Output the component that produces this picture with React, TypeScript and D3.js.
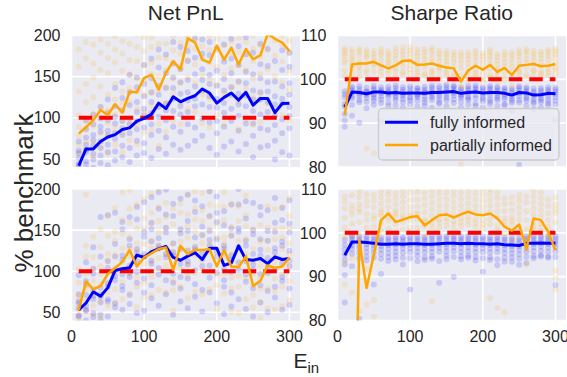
import { useEffect, useRef } from "react";
import * as d3 from "d3";

const epochs = [10, 20, 30, 40, 50, 60, 70, 80, 90, 100, 110, 120, 130, 140, 150, 160, 170, 180, 190, 200, 210, 220, 230, 240, 250, 260, 270, 280, 290, 300];

// mean lines (% of benchmark)
const pnlTopFull = [41.5, 62, 62, 71, 76.5, 79.4, 85.6, 87.6, 95.8, 99.1, 104, 117.7, 111, 125.4, 119.3, 123.4, 126.7, 134.9, 130, 117.7, 124.7, 130, 121.4, 130.9, 115.2, 123.4, 123.4, 106.2, 117.3, 117.7];
const pnlTopPartial = [80.6, 88.4, 97, 109.4, 103.2, 116.4, 106.2, 131.6, 130.9, 148.5, 152.2, 134.1, 154.7, 168.6, 158.8, 196.7, 191.4, 170.7, 167, 187.7, 170.7, 185.2, 164.6, 183.5, 171.1, 176, 202, 196, 191.4, 181];
const pnlBottomFull = [52.9, 61.3, 75, 69.6, 80, 100.8, 103, 104.2, 119.6, 116.7, 123.8, 127, 130, 116.7, 113.3, 118.3, 122.5, 114.2, 127.9, 127.9, 107, 110, 130.8, 114.2, 113.3, 115.4, 109.2, 117.5, 114.2, 115.4];
const pnlBottomPartial = [52.9, 87.5, 77.9, 82, 96.7, 103.8, 111.3, 125.8, 105.8, 116.7, 121.7, 127, 128.8, 101.7, 130.8, 120.8, 125.8, 125.8, 126.7, 105.8, 125.8, 105.8, 105, 118.3, 82, 88.3, 107, 104.2, 105.8, 116.7];
const sharpeTopFull = [93.6, 97.1, 97, 96.7, 97.1, 97.1, 96.9, 97, 96.8, 96.9, 96.9, 96.8, 97, 97, 97.1, 97.2, 96.8, 97, 97.1, 96.9, 97, 97, 96.8, 96.4, 97, 96.9, 96.4, 96.5, 96.8, 96.7];
const sharpeTopPartial = [91.9, 103.4, 103.6, 103.6, 104, 103.2, 102.5, 103.2, 104.2, 104.3, 103.3, 103.4, 103.6, 103.1, 102.7, 102.5, 99.5, 102, 103.1, 102.2, 103.3, 101.7, 102.6, 101, 103.1, 103.3, 103.5, 103, 103.1, 103.5];
const sharpeBottomFull = [94.9, 97.9, 97.9, 97.8, 97.6, 97.4, 97.4, 97.5, 97.4, 97.5, 97.5, 97.4, 97.4, 97.5, 97.6, 97.6, 97.5, 97.6, 97.5, 97.5, 97.4, 97.5, 97.3, 97.2, 97.1, 97.6, 97.6, 97.7, 97.6, 97.6];
const sharpeBottomPartial = [50, 15, 98.3, 87.4, 95, 102.9, 104.4, 102.5, 103, 103.6, 103.8, 101.7, 102.9, 104, 104.2, 103.5, 104.2, 104.8, 104.2, 104, 104.4, 103.3, 101.4, 100.5, 101.9, 96.4, 103.3, 102.9, 100.2, 96];

// individual runs, one row per epoch value
const pnlTopFullDots = [
  [31, 37, 42, 44, 51, 57, 60, 71], [43, 47, 58, 61, 67, 76, 86, 97], [39, 49, 56, 66, 73, 79, 92, 104], [45, 54, 63, 71, 83, 89, 99, 113],
  [42, 58, 67, 78, 84, 97, 106, 122], [48, 59, 74, 81, 93, 101, 114, 136], [52, 66, 79, 87, 96, 109, 124, 143], [46, 63, 81, 92, 99, 115, 131, 152],
  [54, 72, 86, 96, 107, 119, 137, 149], [57, 69, 88, 103, 111, 126, 141, 164], [51, 79, 92, 106, 119, 131, 148, 172], [62, 84, 101, 113, 128, 139, 161, 183],
  [56, 76, 97, 109, 117, 136, 154, 177], [67, 89, 108, 123, 136, 149, 166, 192], [61, 83, 104, 114, 129, 143, 159, 186], [66, 92, 107, 121, 131, 146, 169, 181],
  [72, 88, 114, 123, 138, 153, 173, 197], [78, 99, 116, 133, 146, 159, 178, 195], [63, 94, 113, 126, 141, 152, 176, 192], [55, 81, 96, 112, 123, 139, 157, 184],
  [65, 89, 106, 118, 133, 147, 168, 189], [71, 96, 111, 128, 137, 154, 172, 196], [59, 84, 102, 116, 129, 144, 164, 187], [68, 93, 114, 127, 142, 156, 177, 198],
  [52, 78, 93, 108, 122, 133, 153, 179], [64, 87, 104, 122, 131, 148, 165, 190], [66, 85, 107, 119, 132, 143, 163, 184], [49, 72, 91, 102, 116, 126, 144, 169],
  [58, 81, 98, 117, 123, 138, 158, 182], [54, 87, 102, 113, 128, 142, 162, 179],
];
const pnlTopPartialDots = [
  [56, 67, 78, 89, 103, 132, 162, 183], [62, 71, 87, 96, 119, 141, 172, 192], [53, 70, 90, 104, 125, 149, 166, 189], [64, 81, 100, 113, 138, 158, 179, 195],
  [57, 78, 93, 109, 128, 154, 173, 190], [67, 87, 104, 122, 141, 167, 183, 199], [58, 82, 96, 118, 132, 157, 178, 193], [73, 93, 119, 136, 153, 170, 190, 207],
  [68, 92, 111, 132, 148, 169, 186, 202], [82, 107, 128, 145, 164, 181, 198, 215], [85, 114, 130, 153, 167, 186, 198, 217], [66, 93, 115, 134, 150, 173, 190, 209],
  [83, 118, 137, 158, 173, 190, 203, 220], [96, 129, 148, 167, 182, 199, 210, 225], [92, 118, 142, 160, 178, 191, 208, 222], [111, 149, 170, 187, 198, 210, 217, 232],
  [107, 142, 165, 184, 195, 208, 215, 229], [93, 128, 151, 172, 187, 203, 212, 227], [88, 123, 146, 167, 182, 199, 210, 224], [103, 140, 162, 182, 196, 209, 216, 230],
  [92, 130, 152, 172, 188, 204, 213, 227], [100, 137, 160, 179, 193, 207, 215, 229], [86, 120, 143, 164, 180, 197, 208, 222], [97, 135, 158, 178, 192, 206, 214, 228],
  [91, 125, 148, 169, 184, 200, 211, 225], [95, 130, 153, 174, 188, 203, 213, 227], [117, 159, 182, 200, 208, 219, 225, 237], [110, 150, 175, 194, 204, 215, 222, 234],
  [103, 143, 168, 189, 200, 212, 220, 232], [96, 134, 157, 179, 194, 207, 216, 229],
];
const pnlBottomFullDots = [
  [37, 45, 46, 55, 61, 63, 72, 95], [40, 52, 53, 58, 71, 84, 88, 111], [44, 49, 66, 70, 77, 97, 103, 129], [41, 47, 62, 69, 72, 80, 118, 166],
  [45, 63, 66, 81, 85, 104, 112, 168], [56, 61, 89, 94, 101, 118, 133, 171], [53, 77, 82, 96, 114, 119, 151, 160], [60, 71, 93, 98, 107, 131, 139, 166],
  [49, 86, 99, 112, 122, 127, 163, 178], [52, 74, 91, 118, 121, 142, 148, 184], [67, 83, 109, 113, 136, 151, 159, 190], [58, 96, 104, 128, 131, 140, 176, 196],
  [72, 89, 117, 121, 147, 153, 169, 199], [47, 86, 97, 119, 123, 134, 167, 182], [63, 79, 93, 109, 127, 146, 151, 188], [55, 91, 108, 112, 125, 149, 161, 193],
  [69, 84, 101, 126, 129, 141, 172, 186], [51, 77, 106, 115, 122, 144, 154, 179], [74, 92, 107, 131, 138, 149, 167, 197], [61, 98, 118, 124, 139, 160, 171, 191],
  [48, 81, 89, 102, 127, 131, 156, 173], [57, 74, 99, 114, 119, 143, 152, 181], [66, 102, 111, 129, 148, 152, 181, 200], [54, 87, 96, 112, 131, 137, 164, 185],
  [45, 79, 102, 108, 121, 145, 150, 183], [62, 83, 97, 119, 126, 139, 168, 178], [50, 76, 98, 105, 116, 137, 149, 174], [68, 81, 101, 123, 128, 148, 159, 189],
  [53, 88, 93, 110, 131, 136, 162, 177], [59, 79, 106, 113, 125, 147, 158, 186],
];
const pnlBottomPartialDots = [
  [40, 46, 53, 55, 68, 71, 86, 102], [52, 64, 79, 83, 97, 118, 131, 193], [47, 58, 71, 80, 88, 103, 117, 142], [45, 63, 69, 84, 97, 106, 129, 151],
  [58, 74, 86, 99, 113, 121, 143, 167], [61, 78, 97, 104, 119, 137, 148, 177], [66, 87, 103, 111, 128, 146, 163, 196], [73, 96, 118, 127, 141, 159, 176, 199],
  [56, 81, 92, 109, 126, 134, 152, 181], [68, 86, 109, 117, 133, 152, 164, 188], [71, 93, 111, 128, 137, 158, 171, 194], [77, 102, 116, 131, 147, 161, 178, 200],
  [74, 107, 121, 129, 152, 166, 183, 203], [52, 77, 89, 108, 124, 133, 157, 176], [81, 103, 127, 136, 149, 171, 182, 205], [67, 94, 108, 126, 141, 154, 169, 193],
  [75, 98, 119, 131, 148, 163, 177, 197], [72, 101, 112, 134, 143, 161, 174, 195], [78, 99, 124, 133, 151, 166, 181, 198], [54, 83, 96, 112, 127, 141, 158, 179],
  [73, 97, 116, 134, 141, 162, 178, 196], [51, 79, 92, 113, 121, 144, 154, 181], [49, 81, 94, 109, 126, 137, 161, 179], [66, 91, 113, 121, 139, 155, 168, 192],
  [38, 56, 71, 83, 97, 112, 127, 151], [43, 62, 79, 91, 106, 114, 136, 156], [55, 79, 98, 107, 126, 137, 153, 179], [53, 76, 91, 111, 118, 139, 151, 176],
  [57, 81, 96, 108, 127, 141, 152, 178], [64, 88, 107, 121, 134, 152, 167, 189],
];
const sharpeTopFullDots = [
  [89.2, 90.6, 92.1, 93.8, 94.4, 95.9, 96.6, 97.3], [91.7, 94.2, 95.6, 96.1, 97.4, 97.9, 98.3, 96.8], [90.1, 94.8, 95.3, 96.7, 97.2, 97.8, 98.4, 96.2], [93.4, 94.9, 95.8, 96.4, 97.1, 97.3, 98.1, 96.9],
  [94.2, 95.1, 96.3, 96.6, 97.5, 97.9, 98.5, 95.7], [90.3, 95.4, 96.1, 96.8, 97.3, 97.6, 98.2, 94.6], [93.9, 94.7, 95.9, 96.5, 97.2, 97.7, 98.3, 96.9], [94.1, 95.2, 95.8, 96.9, 97.4, 98, 98.6, 96.3],
  [93.6, 94.8, 96.2, 96.7, 97.1, 97.6, 98.2, 95.5], [94.3, 95.6, 96, 96.8, 97.3, 97.9, 98.4, 95.1], [93.8, 95.1, 95.9, 96.6, 97.4, 97.8, 98.1, 96.3], [94, 94.7, 96.1, 96.9, 97.2, 97.7, 98.3, 95.4],
  [93.5, 95.3, 96.4, 97, 97.5, 98.1, 98.6, 95.9], [94.4, 95.5, 96.2, 96.8, 97.3, 97.9, 98.4, 94.8], [93.9, 95.8, 96.5, 97.1, 97.6, 98.2, 98.7, 95.2], [94.6, 95.4, 96.3, 97.3, 97.8, 98.3, 98.5, 96.9],
  [93.7, 94.9, 95.8, 96.5, 97.1, 97.6, 98.1, 96.2], [94.2, 95.3, 96.1, 96.9, 97.5, 97.9, 98.4, 95.6], [94.5, 95.7, 96.4, 97.2, 97.7, 98.1, 98.6, 93.9], [93.6, 95, 96, 96.7, 97.3, 97.8, 98.2, 95.5],
  [94.3, 95.4, 96.3, 97, 97.6, 98, 98.5, 94.9], [93.9, 95.2, 96.2, 96.8, 97.4, 97.9, 98.3, 95.7], [94.1, 95.5, 96, 96.6, 97.2, 97.7, 98.1, 94.4], [92.9, 94.6, 95.6, 96.2, 96.9, 97.4, 97.9, 95.1],
  [80.5, 95.3, 96.2, 96.9, 97.5, 98, 98.4, 94.7], [94, 95.1, 96.1, 96.8, 97.3, 97.8, 98.2, 95.6], [93.2, 94.5, 95.5, 96.2, 96.8, 97.3, 97.9, 94.9], [93.6, 94.8, 95.7, 96.4, 97, 97.5, 98, 95.3],
  [94.1, 95.2, 96, 96.7, 97.2, 97.7, 98.2, 94.6], [90.6, 95.1, 95.9, 96.6, 97.1, 97.6, 98.1, 94.3],
];
const sharpeTopPartialDots = [
  [100.8, 102.1, 103.7, 104.4, 105.3, 105.9, 106.6, 107.1], [101.3, 102.4, 103.1, 104.6, 105.2, 106.1, 106.8, 103.9], [100.6, 101.9, 103.4, 104.1, 105.5, 106.3, 106.9, 102.8], [84.2, 102.2, 103.6, 104.9, 105.4, 106.1, 106.7, 101.4],
  [83.1, 101.7, 102.9, 104.2, 105.1, 105.8, 106.5, 103.6], [100.9, 102.6, 103.3, 104.5, 105.6, 106.2, 106.9, 101.8], [101.2, 102.1, 103.8, 104.3, 105.2, 105.7, 106.4, 102.9], [100.7, 101.8, 103.5, 104.7, 105.5, 106.3, 107.1, 102.5],
  [101.6, 102.8, 103.9, 104.8, 105.7, 106.4, 107.3, 101.1], [101.4, 102.3, 104.1, 104.9, 105.9, 106.6, 107.4, 103.2], [100.8, 102.5, 103.4, 104.4, 105.3, 106, 106.8, 101.6], [101.3, 102.7, 103.6, 104.6, 105.4, 106.2, 106.9, 100.9],
  [101, 102.2, 103.9, 104.8, 105.8, 106.5, 107.2, 101.7], [100.5, 101.9, 103.1, 104.2, 105.1, 105.9, 106.6, 102.6], [100.9, 102.3, 103.4, 104.1, 104.9, 105.7, 106.4, 101.5], [99.8, 101.4, 102.8, 103.9, 104.7, 105.5, 106.2, 100.6],
  [80.6, 98.4, 100.9, 102.5, 103.6, 104.5, 105.4, 106.1], [100.2, 101.6, 102.7, 103.7, 104.6, 105.4, 106.1, 99.5], [100.7, 102.1, 103.2, 104.3, 105.2, 105.9, 106.6, 101.4], [100.1, 101.3, 102.5, 103.6, 104.5, 105.3, 106, 99.7],
  [101, 102.4, 103.5, 104.6, 105.4, 106.1, 106.8, 100.5], [99.5, 100.9, 102.3, 103.4, 104.3, 105.1, 105.8, 101.8], [100.5, 101.8, 102.9, 103.9, 104.8, 105.6, 106.3, 99.9], [98.6, 100.3, 101.6, 102.8, 103.8, 104.7, 105.5, 106.2],
  [100.9, 102.2, 103.4, 104.4, 105.3, 106, 106.7, 101.6], [101.1, 102.6, 103.8, 104.7, 105.6, 106.3, 106.9, 100.4], [100.8, 102, 103.3, 104.2, 105.1, 105.8, 106.5, 101.9], [100.4, 101.7, 102.9, 103.9, 104.8, 105.6, 106.3, 101.2],
  [100.9, 102.3, 103.4, 104.5, 105.4, 106.1, 106.7, 101.6], [101.2, 102.7, 103.8, 104.9, 105.7, 106.4, 107, 102.3],
];
const sharpeBottomFullDots = [
  [84.1, 90.3, 92.8, 93.9, 95.1, 96.2, 97.3, 98.4], [92.4, 95.2, 96.3, 97.1, 97.8, 98.4, 99, 99.4], [80.4, 95.4, 96.5, 97.3, 98, 98.6, 99.1, 94.2], [94.6, 95.6, 96.6, 97.4, 98.1, 98.7, 99.2, 93.7],
  [88.2, 95.5, 96.4, 97.2, 97.9, 98.5, 99.1, 94.4], [90.6, 95.2, 96.2, 97, 97.7, 98.3, 98.9, 94.1], [94.5, 95.4, 96.4, 97.2, 97.9, 98.5, 99, 93.6], [94.8, 95.7, 96.6, 97.4, 98.1, 98.6, 99.1, 93.9],
  [94.3, 95.5, 96.5, 97.3, 97.9, 98.5, 99, 92.8], [87.1, 95.6, 96.5, 97.3, 98, 98.6, 99.1, 94.2], [94.7, 95.7, 96.6, 97.4, 98, 98.6, 99.1, 93.5], [94.4, 95.5, 96.4, 97.2, 97.9, 98.5, 99, 93.8],
  [94.6, 95.6, 96.5, 97.3, 98, 98.6, 99.2, 94.1], [88.6, 95.7, 96.6, 97.4, 98.1, 98.7, 99.2, 93.6], [94.8, 95.8, 96.7, 97.4, 98.1, 98.7, 99.2, 94], [89.9, 95.8, 96.7, 97.5, 98.2, 98.7, 99.2, 94.5],
  [94.6, 95.6, 96.6, 97.4, 98, 98.6, 99.1, 93.9], [94.8, 95.8, 96.7, 97.5, 98.1, 98.7, 99.2, 94.3], [94.5, 95.6, 96.5, 97.3, 98, 98.6, 99.1, 93.7], [91.1, 95.6, 96.5, 97.3, 98, 98.6, 99.1, 94.2],
  [94.4, 95.5, 96.4, 97.2, 97.9, 98.5, 99, 93.8], [92.6, 95.6, 96.5, 97.3, 98, 98.6, 99.1, 94], [94.3, 95.4, 96.3, 97.1, 97.8, 98.4, 98.9, 93.4], [93.4, 95.3, 96.2, 97, 97.7, 98.3, 98.9, 94.4],
  [92.7, 95.1, 96.1, 96.9, 97.6, 98.2, 98.8, 94.1], [93.1, 95.7, 96.6, 97.4, 98.1, 98.7, 99.2, 94.5], [94.7, 95.8, 96.7, 97.5, 98.1, 98.7, 99.2, 94.2], [94.9, 95.9, 96.8, 97.6, 98.2, 98.8, 99.3, 94.6],
  [94.6, 95.7, 96.7, 97.5, 98.1, 98.7, 99.2, 94.3], [88.1, 95.8, 96.7, 97.5, 98.1, 98.7, 99.2, 94.5],
];
const sharpeBottomPartialDots = [
  [88.2, 93.1, 99, 103.4, 105.6, 107.1, 108.3, 101.2], [86.4, 94.2, 99.3, 104.1, 106.3, 108.6, 102.1, 105.2], [82.1, 99.6, 102.4, 104.7, 106.6, 108.2, 109.4, 105.5], [83.6, 91.8, 101.2, 104.3, 106.1, 107.4, 108.8, 102.9],
  [80.9, 84.7, 101.5, 104, 105.8, 107.3, 108.6, 103.1], [100.4, 102.2, 103.9, 105.3, 106.7, 108.1, 109.3, 104.6], [100.9, 102.8, 104.4, 105.9, 107.3, 108.7, 109.7, 103.6], [100.3, 102.1, 103.7, 105.1, 106.5, 107.9, 109.1, 104.4],
  [100.7, 102.5, 104.1, 105.5, 106.9, 108.3, 109.5, 103.3], [101.1, 102.9, 104.5, 105.9, 107.5, 109.1, 110.2, 103.8], [101.2, 103, 104.6, 106, 107.6, 109.3, 110.4, 104.1], [99.5, 101.5, 103.1, 104.7, 106.3, 107.9, 109.2, 102.6],
  [84.4, 102.3, 103.9, 105.3, 106.8, 108.3, 109.6, 101.2], [101.3, 103.1, 104.7, 106.1, 107.5, 108.9, 110.1, 102.4], [101.5, 103.3, 104.9, 106.3, 107.7, 109.1, 110.3, 102.6], [100.7, 102.7, 104.3, 105.7, 107.1, 108.5, 109.8, 101.9],
  [101.5, 103.3, 104.9, 106.3, 107.7, 109.1, 110.4, 102.5], [101.9, 103.7, 105.3, 106.7, 108.1, 109.5, 110.6, 102.8], [101.4, 103.2, 104.8, 106.2, 107.6, 109, 110.3, 102.3], [101.1, 102.9, 104.5, 105.9, 107.3, 108.7, 109.9, 102],
  [85.1, 103.1, 104.7, 106.1, 107.5, 108.9, 110.1, 101.9], [82.9, 101.7, 103.5, 104.9, 106.4, 107.9, 109.2, 100.6], [81.8, 99.7, 101.7, 103.3, 104.9, 106.5, 107.9, 102.6], [98.4, 100.4, 101.9, 103.5, 105.1, 106.7, 108.1, 102.7],
  [99.7, 101.5, 103.1, 104.5, 105.9, 107.3, 108.6, 100.6], [92.8, 98.4, 100.9, 102.9, 104.9, 106.9, 108.3, 96.1], [100.7, 102.5, 104.1, 105.5, 106.9, 108.3, 109.6, 101.6], [100.3, 102.1, 103.7, 105.1, 106.5, 107.9, 109.2, 101.3],
  [97.4, 99.4, 101.4, 102.9, 104.5, 106.1, 107.6, 100.3], [87.1, 89.6, 91.4, 102.4, 104.4, 106.4, 108.1, 105.3],
];

const titles = ["Net PnL", "Sharpe Ratio"];
const xTicks = [0, 100, 200, 300];
const pnlTicks = [50, 100, 150, 200];
const sharpeTicks = [80, 90, 100, 110];
const legendLabels = ["fully informed", "partially informed"];
const benchmark = 100;

function App() {
  const ref = useRef<SVGSVGElement>(null);

  useEffect(() => {
    const svg = d3.select(ref.current);
    svg.selectAll("*").remove();

    const font = "'Liberation Sans', Arial, sans-serif";
    const ink = "#262626";
    const fullColor = "#0000ff";
    const partialColor = "#ffa500";
    const cols = [[71.5, 300], [337.5, 566]];
    const rows = [[35.5, 167], [189, 320.5]];

    const panels = [
      { col: 0, row: 0, domain: [40, 200], ticks: pnlTicks, full: pnlTopFull, partial: pnlTopPartial, fullDots: pnlTopFullDots, partialDots: pnlTopPartialDots },
      { col: 1, row: 0, domain: [80, 110], ticks: sharpeTicks, full: sharpeTopFull, partial: sharpeTopPartial, fullDots: sharpeTopFullDots, partialDots: sharpeTopPartialDots },
      { col: 0, row: 1, domain: [40, 200], ticks: pnlTicks, full: pnlBottomFull, partial: pnlBottomPartial, fullDots: pnlBottomFullDots, partialDots: pnlBottomPartialDots },
      { col: 1, row: 1, domain: [80, 110], ticks: sharpeTicks, full: sharpeBottomFull, partial: sharpeBottomPartial, fullDots: sharpeBottomFullDots, partialDots: sharpeBottomPartialDots },
    ];

    const defs = svg.append("defs");

    panels.forEach((p, i) => {
      const [x0, x1] = cols[p.col];
      const [y0, y1] = rows[p.row];
      const x = d3.scaleLinear().domain([0, 314.5]).range([x0, x1]);
      const y = d3.scaleLinear().domain(p.domain).range([y1, y0]);
      const g = svg.append("g");

      g.append("rect")
        .attr("x", x0)
        .attr("y", y0)
        .attr("width", x1 - x0)
        .attr("height", y1 - y0)
        .attr("fill", "#eaeaf2");

      g.selectAll(".gx")
        .data(xTicks)
        .join("line")
        .attr("x1", (d) => x(d))
        .attr("x2", (d) => x(d))
        .attr("y1", y0)
        .attr("y2", y1)
        .attr("stroke", "#fff")
        .attr("stroke-width", 1.6);

      g.selectAll(".gy")
        .data(p.ticks)
        .join("line")
        .attr("x1", x0)
        .attr("x2", x1)
        .attr("y1", (d) => y(d))
        .attr("y2", (d) => y(d))
        .attr("stroke", "#fff")
        .attr("stroke-width", 1.6);

      const clipId = `panel-clip-${i}`;
      defs.append("clipPath")
        .attr("id", clipId)
        .append("rect")
        .attr("x", x0)
        .attr("y", y0)
        .attr("width", x1 - x0)
        .attr("height", y1 - y0);

      const plot = g.append("g").attr("clip-path", `url(#${clipId})`);

      const series = [
        { dots: p.fullDots, color: fullColor },
        { dots: p.partialDots, color: partialColor },
      ];
      series.forEach((s) => {
        const pts = s.dots.flatMap((vals, j) => vals.map((v) => ({ e: epochs[j], v })));
        plot.append("g")
          .selectAll("circle")
          .data(pts)
          .join("circle")
          .attr("cx", (d) => x(d.e))
          .attr("cy", (d) => y(d.v))
          .attr("r", 3)
          .attr("fill", s.color)
          .attr("fill-opacity", 0.15);
      });

      plot.append("line")
        .attr("x1", x(epochs[0]))
        .attr("x2", x(epochs[epochs.length - 1]))
        .attr("y1", y(benchmark))
        .attr("y2", y(benchmark))
        .attr("stroke", "#ff0000")
        .attr("stroke-width", 4)
        .attr("stroke-dasharray", "13.5,7");

      const line = d3
        .line<number>()
        .x((_, j) => x(epochs[j]))
        .y((d) => y(d));

      plot.append("path")
        .datum(p.full)
        .attr("fill", "none")
        .attr("stroke", fullColor)
        .attr("stroke-width", 3)
        .attr("stroke-linejoin", "round")
        .attr("d", line);

      plot.append("path")
        .datum(p.partial)
        .attr("fill", "none")
        .attr("stroke", partialColor)
        .attr("stroke-width", 2.5)
        .attr("stroke-linejoin", "round")
        .attr("d", line);

      g.selectAll(".yl")
        .data(p.ticks)
        .join("text")
        .attr("x", x0 - 11)
        .attr("y", (d) => y(d))
        .attr("dy", "0.36em")
        .attr("text-anchor", "end")
        .attr("fill", ink)
        .style("font-family", font)
        .style("font-size", "16px")
        .text((d) => d);

      if (p.row === 1) {
        g.selectAll(".xl")
          .data(xTicks)
          .join("text")
          .attr("x", (d) => x(d))
          .attr("y", y1 + 21.5)
          .attr("text-anchor", "middle")
          .attr("fill", ink)
          .style("font-family", font)
          .style("font-size", "16px")
          .text((d) => d);
      } else {
        g.append("text")
          .attr("x", (x0 + x1) / 2)
          .attr("y", 20)
          .attr("text-anchor", "middle")
          .attr("fill", ink)
          .style("font-family", font)
          .style("font-size", "21px")
          .text(titles[p.col]);
      }
    });

    // legend in the top-right panel
    const legend = svg.append("g");
    legend.append("rect")
      .attr("x", 378.5)
      .attr("y", 108.5)
      .attr("width", 180.5)
      .attr("height", 51.5)
      .attr("rx", 4)
      .attr("fill", "#eaeaf2")
      .attr("fill-opacity", 0.8)
      .attr("stroke", "#cccccc")
      .attr("stroke-width", 1.3);
    [fullColor, partialColor].forEach((c, k) => {
      const ly = 122.3 + k * 22.8;
      legend.append("line")
        .attr("x1", 385)
        .attr("x2", 418)
        .attr("y1", ly)
        .attr("y2", ly)
        .attr("stroke", c)
        .attr("stroke-width", k === 0 ? 3 : 2.5);
      legend.append("text")
        .attr("x", 430)
        .attr("y", ly + 5.8)
        .attr("fill", ink)
        .style("font-family", font)
        .style("font-size", "16px")
        .text(legendLabels[k]);
    });

    svg.append("text")
      .attr("transform", "translate(33,193) rotate(-90)")
      .attr("text-anchor", "middle")
      .attr("fill", ink)
      .style("font-family", font)
      .style("font-size", "26px")
      .text("% benchmark");

    const xl = svg.append("text")
      .attr("x", 293.5)
      .attr("y", 368)
      .attr("fill", ink)
      .style("font-family", font)
      .style("font-size", "21px")
      .text("E");
    xl.append("tspan")
      .attr("dy", 5)
      .style("font-size", "15px")
      .text("in");
  }, []);

  return (
    <svg
      ref={ref}
      width={567}
      height={377}
      style={{ position: "absolute", left: 0, top: 0, background: "#fff" }}
    />
  );
}

export default App;
